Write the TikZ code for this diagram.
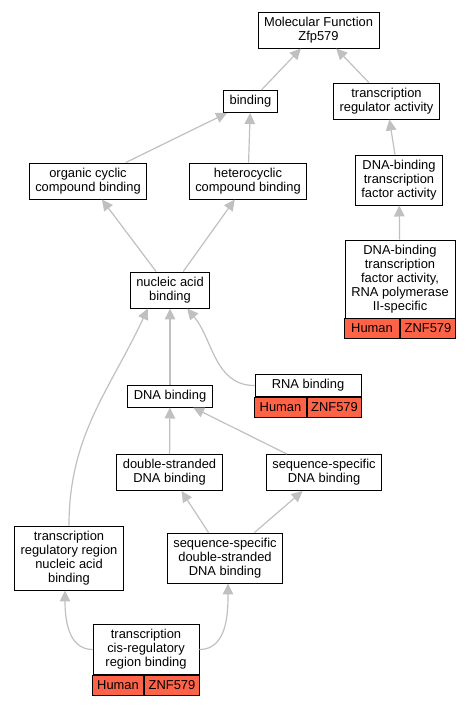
\documentclass[tikz,border=0pt]{standalone}
\usepackage{fontspec}
\setmainfont{Liberation Sans}
\usetikzlibrary{arrows.meta,positioning}
\definecolor{linkgray}{HTML}{C0C0C0}
\definecolor{genered}{HTML}{FF6347}
\tikzset{
    term/.style={
        rectangle,
        draw=black,
        fill=white,
        line width=0.95pt,
        align=center,
        inner xsep=6pt,
        inner ysep=5pt,
    },
    gene/.style={
        rectangle,
        draw=black,
        fill=genered,
        line width=0.95pt,
        inner sep=2pt,
        outer sep=0pt,
        minimum height=20pt,
    },
    every edge/.style={
        draw=linkgray,
        -{Triangle[length=11pt,width=10.5pt]},
        line width=1.2pt,
    },
}

\begin{document}
\begin{tikzpicture}[x=1pt, y=-1pt, font=\fontsize{12.9}{14}\selectfont]
    \useasboundingbox (0,0) rectangle (471,707);

    \node [term] (mf) at (318.5,30) {Molecular Function\\Zfp579};
    \node [term] (bind) at (250.5,101.5) {binding};
    \node [term] (tra) at (386.5,101) {transcription\\regulator activity};
    \node [term] (occb) at (88,181) {organic cyclic\\compound binding};
    \node [term] (hcb) at (248,181) {heterocyclic\\compound binding};
    \node [term] (dtfa) at (399,180) {DNA-binding\\transcription\\factor activity};
    \node [term, minimum width=110pt] (dtfarna) at (400,279)
        {DNA-binding\\transcription\\factor activity,\\RNA polymerase\\II-specific};
    \node [gene, minimum width=55pt, below=0pt of dtfarna.south west, anchor=north west] (dtfarnaH) {Human};
    \node [gene, minimum width=55pt, below=0pt of dtfarna.south east, anchor=north east] (dtfarnaZ) {ZNF579};
    \node [term] (nab) at (170,290) {nucleic acid\\binding};
    \node [term] (dnab) at (170,396) {DNA binding};
    \node [term, minimum width=106pt] (rnab) at (308,385.5) {RNA binding};
    \node [gene, minimum width=52pt, below=0pt of rnab.south west, anchor=north west] (rnabH) {Human};
    \node [gene, minimum width=54pt, below=0pt of rnab.south east, anchor=north east] (rnabZ) {ZNF579};
    \node [term] (dsdna) at (169.5,472.5) {double-stranded\\DNA binding};
    \node [term] (ssdna) at (324,472.5) {sequence-specific\\DNA binding};
    \node [term] (trr) at (69,558) {transcription\\regulatory region\\nucleic acid\\binding};
    \node [term] (ssds) at (225,558) {sequence-specific\\double-stranded\\DNA binding};
    \node [term, minimum width=106pt] (tcrb) at (146,649.5)
        {transcription\\cis-regulatory\\region binding};
    \node [gene, minimum width=51pt, below=0pt of tcrb.south west, anchor=north west] (tcrbH) {Human};
    \node [gene, minimum width=55pt, below=0pt of tcrb.south east, anchor=north east] (tcrbZ) {ZNF579};

    \draw (bind) edge (mf);
    \draw (tra) edge (mf);
    \draw (occb) edge (bind);
    \draw (hcb) edge (bind);
    \draw (dtfa) edge (tra);
    \draw (dtfarna) edge (dtfa);
    \draw (nab) edge (occb);
    \draw (nab) edge (hcb);
    \draw (dnab) edge (nab);
    \draw (rnab.west) edge[out=180, in=-50] ([xshift=-23pt]nab.south east);
    \draw (trr.north) edge[out=90, in=-115] ([xshift=18pt]nab.south west);
    \draw (dsdna) edge (dnab);
    \draw (ssdna) edge (dnab);
    \draw (ssds) edge (dsdna);
    \draw (ssds) edge (ssdna);
    \draw (tcrb.west) edge[out=180, in=-90] ([xshift=-4pt]trr.south);
    \draw (tcrb.east) edge[out=0, in=-90] ([xshift=3pt]ssds.south);
\end{tikzpicture}
\end{document}
